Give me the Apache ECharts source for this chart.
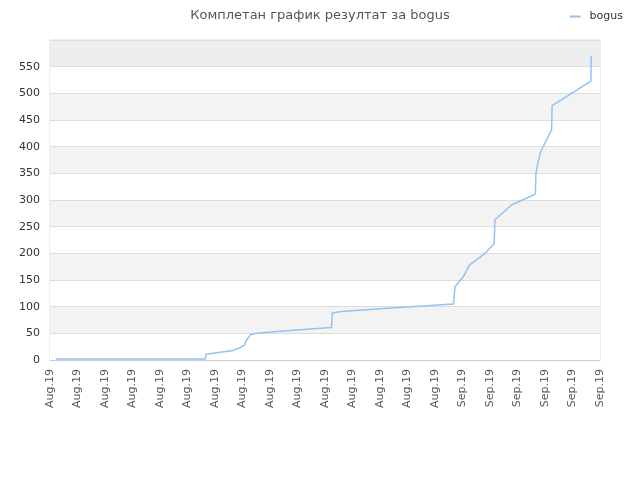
<!DOCTYPE html>
<html>
<head>
<meta charset="utf-8">
<script src="https://cdn.jsdelivr.net/npm/echarts@6/dist/echarts.min.js"></script>
<style>html,body{margin:0;padding:0;background:#fff}#c{width:640px;height:480px}</style>
</head>
<body>
<div id="c"></div>
<script>
var tickLabels = ['Aug.19','Aug.19','Aug.19','Aug.19','Aug.19','Aug.19','Aug.19','Aug.19','Aug.19','Aug.19','Aug.19','Aug.19','Aug.19','Aug.19','Aug.19','Sep.19','Sep.19','Sep.19','Sep.19','Sep.19','Sep.19'];
var seriesX = [0.21,5.65,5.67,5.71,6.65,6.91,7.07,7.13,7.30,7.52,8.36,9.20,10.24,10.26,10.61,12.0,14.67,14.73,15.03,15.25,15.82,16.15,16.18,16.79,17.65,17.67,17.72,17.84,18.24,18.26,19.67,19.68];
var seriesY = [2,2,11,13,18,23,28,36,48,50,54,57,61,88,91,96,105,138,156,178,200,218,263,291,311,349,365,390,432,477,523,570];
var seriesName = 'bogus';
var titleText = 'Комплетан график резултат за bogus';

var data = seriesX.map(function (x, i) { return [x, seriesY[i]]; });
var font = 'DejaVu Sans';
var chart = echarts.init(document.getElementById('c'), null, {renderer: 'canvas'});
chart.setOption({
  animation: false,
  backgroundColor: '#fff',
  title: {
    text: titleText, left: 'center', top: 4,
    textStyle: {fontFamily: font, fontSize: 13, fontWeight: 'normal', color: '#555'}
  },
  legend: {
    right: 12, top: 6, itemWidth: 11, itemHeight: 2, itemGap: 6,
    icon: 'rect',
    textStyle: {fontFamily: font, fontSize: 11, color: '#333', padding: [0, 0, 0, 4]},
    data: [seriesName]
  },
  grid: {left: 50, right: 40, top: 40, bottom: 120, show: true, borderColor: '#ddd', borderWidth: 1},
  xAxis: {
    type: 'value', min: 0, max: 20, interval: 1,
    axisLine: {show: true, lineStyle: {color: '#ccc'}},
    axisTick: {show: false},
    splitLine: {show: false},
    axisLabel: {
      rotate: 90, fontFamily: font, fontSize: 11, color: '#555', margin: 9,
      formatter: function (v) { return tickLabels[Math.round(v)] || ''; }
    }
  },
  yAxis: {
    type: 'value', min: 0, max: 600, interval: 50,
    axisLine: {show: false},
    axisTick: {show: false},
    splitLine: {show: true, lineStyle: {color: '#ddd'}},
    splitArea: {show: true, areaStyle: {color: ['#ffffff','#f3f3f3','#ffffff','#f3f3f3','#ffffff','#f3f3f3','#ffffff','#f3f3f3','#ffffff','#f3f3f3','#ffffff','#eeeeee']}},
    axisLabel: {
      fontFamily: font, fontSize: 11, color: '#333', margin: 10,
      showMaxLabel: false
    }
  },
  series: [{
    name: seriesName, type: 'line', data: data, showSymbol: false,
    lineStyle: {color: '#92c3f2', width: 1.5}, itemStyle: {color: '#92c3f2'}
  }]
});
</script>
</body>
</html>
